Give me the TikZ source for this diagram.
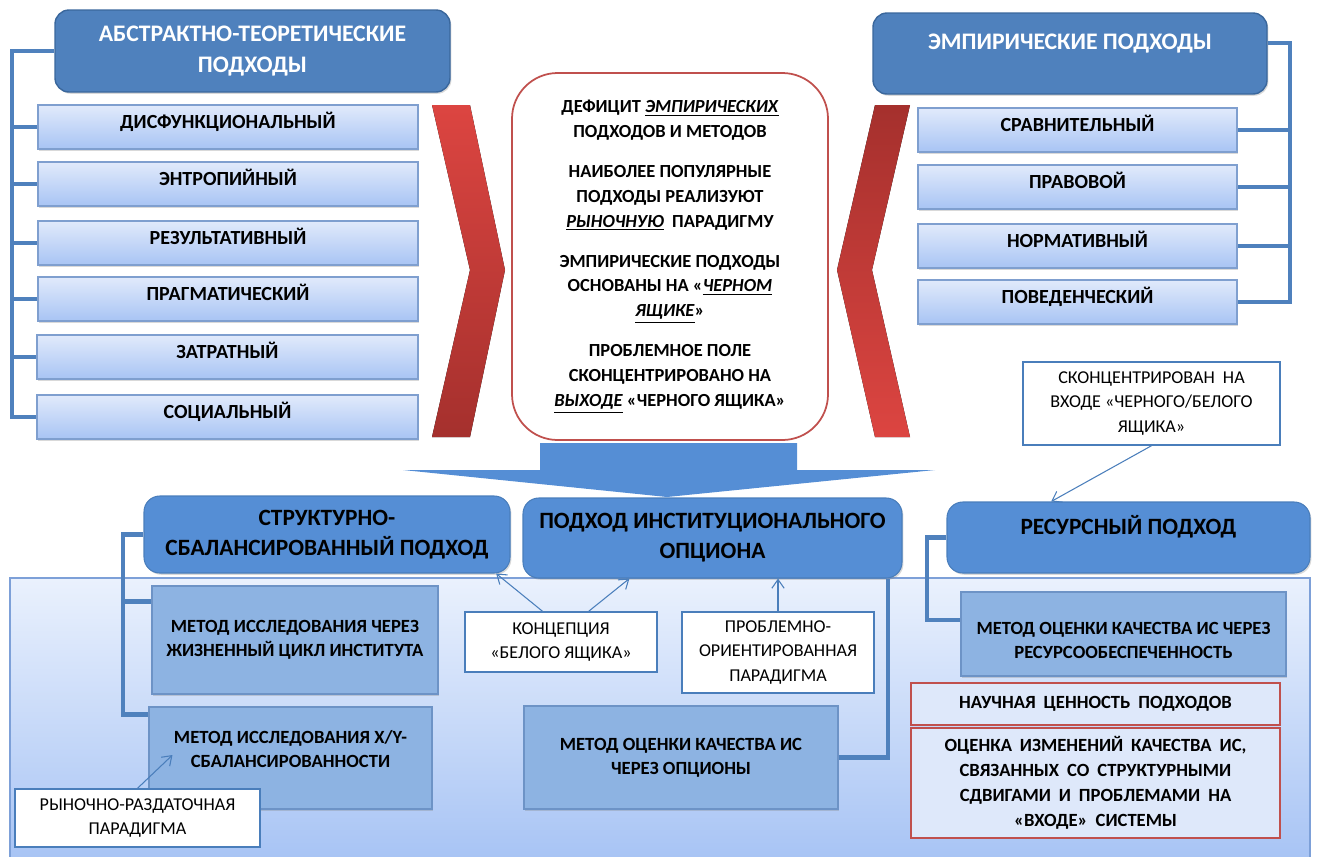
\documentclass[tikz,border=0pt]{standalone}
\usepackage{fontspec}
\setmainfont{Carlito}
\usetikzlibrary{shadows,arrows.meta,calc,positioning}

\definecolor{hdblue}{HTML}{4F81BD}
\definecolor{hdedge}{HTML}{3A679C}
\definecolor{apblue}{HTML}{558ED5}
\definecolor{apedge}{HTML}{4A7EBB}
\definecolor{itemtop}{HTML}{E1EAFB}
\definecolor{itembot}{HTML}{A8C4F4}
\definecolor{itemedge}{HTML}{7F9FCF}
\definecolor{mthfill}{HTML}{8DB3E2}
\definecolor{mthedge}{HTML}{6D93C6}
\definecolor{paneltop}{HTML}{EAF1FD}
\definecolor{panelbot}{HTML}{A5C2F4}
\definecolor{paneledge}{HTML}{7DA0D8}
\definecolor{notered}{HTML}{C0504D}
\definecolor{valfill}{HTML}{DEE8FA}
\definecolor{chevlight}{HTML}{DC4541}
\definecolor{chevdark}{HTML}{A5302D}

\newcommand\widewords{\spaceskip=4.5pt plus 1pt\relax}

\begin{document}
\begin{tikzpicture}[x=0.02cm, y=-0.02cm,
    wh/.style 2 args={minimum width=#1*0.02cm, minimum height=#2*0.02cm},
    box/.style={inner sep=0pt, align=center},
    shade box/.style={drop shadow={opacity=0.3, shadow xshift=0.8pt, shadow yshift=-1pt}},
    bighead/.style={box, shade box, draw=hdedge, fill=hdblue, line width=0.8pt, rounded corners=8pt, text=white, font=\bfseries\fontsize{13.5}{18}\selectfont},
    approach/.style={box, shade box, draw=apedge, fill=apblue, line width=0.6pt, rounded corners=9pt, font=\bfseries\fontsize{13.3}{17}\selectfont},
    item/.style={box, shade box, draw=itemedge, top color=itemtop, bottom color=itembot, line width=0.6pt, text height=7.5pt, text depth=6pt, font=\bfseries\fontsize{11.4}{13}\selectfont},
    method/.style={box, shade box, draw=mthedge, fill=mthfill, line width=0.6pt, font=\bfseries\fontsize{10.6}{13.7}\selectfont},
    note/.style={box, draw=apedge, fill=white, line width=0.8pt, font=\fontsize{10.3}{13.7}\selectfont},
    valuebox/.style={box, draw=notered, fill=valfill, line width=1pt, font=\bfseries\fontsize{10.6}{14.2}\selectfont},
    brace/.style={draw=hdblue, line width=2.4pt},
    pointer/.style={draw=apedge, line width=0.6pt, -{Straight Barb[length=5pt,width=7pt]}}
  ]
  \useasboundingbox (0,0) rectangle (1317,856);

  % lower panel
  \draw [draw=paneledge, line width=0.6pt, top color=paneltop, bottom color=panelbot] (10,578) rectangle (1310,870);

  % two groups of approaches
  \node (abs) [bighead, wh={395}{82}] at (252.5,51) {АБСТРАКТНО-ТЕОРЕТИЧЕСКИЕ\\ПОДХОДЫ};
  \node (t1) [item, wh={380}{44}] at (228,127) {ДИСФУНКЦИОНАЛЬНЫЙ};
  \node (t2) [item, wh={380}{44}] at (228,184) {ЭНТРОПИЙНЫЙ};
  \node (t3) [item, wh={380}{44}] at (228,243) {РЕЗУЛЬТАТИВНЫЙ};
  \node (t4) [item, wh={380}{44}] at (228,299) {ПРАГМАТИЧЕСКИЙ};
  \node (t5) [item, wh={381}{44}] at (227.5,357) {ЗАТРАТНЫЙ};
  \node (t6) [item, wh={381}{44}] at (227.5,417) {СОЦИАЛЬНЫЙ};

  \node (emp) [bighead, wh={394}{81}, text height=8pt, text depth=12pt] at (1070,53.5) {ЭМПИРИЧЕСКИЕ ПОДХОДЫ};
  \node (e1) [item, wh={319}{44}] at (1077.5,130) {СРАВНИТЕЛЬНЫЙ};
  \node (e2) [item, wh={319}{44}] at (1077.5,187) {ПРАВОВОЙ};
  \node (e3) [item, wh={319}{44}] at (1077.5,246) {НОРМАТИВНЫЙ};
  \node (e4) [item, wh={319}{44}] at (1077.5,302) {ПОВЕДЕНЧЕСКИЙ};

  \coordinate (lb) at (12,55);
  \draw [brace] (abs.west) -- (abs.west -| lb) |- (t6.west);
  \draw [brace] (t1.west -| lb) -- (t1.west);
  \draw [brace] (t2.west -| lb) -- (t2.west);
  \draw [brace] (t3.west -| lb) -- (t3.west);
  \draw [brace] (t4.west -| lb) -- (t4.west);
  \draw [brace] (t5.west -| lb) -- (t5.west);

  \coordinate (rb) at (1290,42);
  \draw [brace] (emp.3) -- (emp.3 -| rb) |- (e4.east);
  \draw [brace] (e1.east -| rb) -- (e1.east);
  \draw [brace] (e2.east -| rb) -- (e2.east);
  \draw [brace] (e3.east -| rb) -- (e3.east);

  % chevrons and summary
  \fill [top color=chevlight, bottom color=chevdark] (432,105) -- (470,105) -- (505,270) -- (470,437) -- (432,437) -- (470,270) -- cycle;
  \fill [top color=chevdark, bottom color=chevlight] (875,105) -- (910,105) -- (872,270) -- (910,437) -- (875,437) -- (837,270) -- cycle;

  \node (sum) [box, wh={316}{367}, draw=notered, fill=white, line width=1pt, rounded corners=26pt, font=\bfseries\fontsize{10.5}{14.2}\selectfont] at (670,256.5)
    {ДЕФИЦИТ \underline{\textit{ЭМПИРИЧЕСКИХ}}\\ПОДХОДОВ И МЕТОДОВ\\[8.5pt]
     НАИБОЛЕЕ ПОПУЛЯРНЫЕ\\ПОДХОДЫ РЕАЛИЗУЮТ\\\underline{\textit{РЫНОЧНУЮ}}\ \ ПАРАДИГМУ\\[8.5pt]
     ЭМПИРИЧЕСКИЕ ПОДХОДЫ\\ОСНОВАНЫ НА «\underline{\textit{ЧЕРНОМ}}\\\underline{\textit{ЯЩИКЕ}}»\\[8.5pt]
     ПРОБЛЕМНОЕ ПОЛЕ\\СКОНЦЕНТРИРОВАНО НА\\\underline{\textit{ВЫХОДЕ}} «ЧЕРНОГО ЯЩИКА»};

  \fill [apblue] (540,443) -- (797,443) -- (797,470) -- (935,470) -- (667,497) -- (403,470) -- (540,470) -- cycle;

  % new approaches
  \node (str) [approach, wh={366}{77}] at (327,534.5) {СТРУКТУРНО-\\СБАЛАНСИРОВАННЫЙ ПОДХОД};
  \node (inst) [approach, wh={379}{80}] at (712.5,538) {ПОДХОД ИНСТИТУЦИОНАЛЬНОГО\\ОПЦИОНА};
  \node (res) [approach, wh={363}{71}, text height=8pt, text depth=11pt] at (1128.5,537.5) {РЕСУРСНЫЙ ПОДХОД};

  \node (m1) [method, wh={286}{108}] at (295,640) {МЕТОД ИССЛЕДОВАНИЯ ЧЕРЕЗ\\ЖИЗНЕННЫЙ ЦИКЛ ИНСТИТУТА};
  \node (m2) [method, wh={283}{102}] at (290.5,758) {МЕТОД ИССЛЕДОВАНИЯ X/Y-\\СБАЛАНСИРОВАННОСТИ\\[-3pt]\mbox{}};
  \node (m3) [method, wh={314}{103}] at (681,757.5) {МЕТОД ОЦЕНКИ КАЧЕСТВА ИС\\ЧЕРЕЗ ОПЦИОНЫ};
  \node (m4) [method, wh={325}{84}, text height=27.6pt] at (1123.5,634) {МЕТОД ОЦЕНКИ КАЧЕСТВА ИС ЧЕРЕЗ\\РЕСУРСООБЕСПЕЧЕННОСТЬ};

  \coordinate (sb) at (123,540);
  \draw [brace] (str.west) -- (str.west -| sb) |- (m2.163);
  \draw [brace] (m1.165 -| sb) -- (m1.165);
  \draw [brace] (m3.east) -| (inst.-13);
  \coordinate (rsb) at (927,545);
  \draw [brace] (res.west) -- (res.west -| rsb) |- (m4.175);

  \node (n1) [note, wh={245}{58}] at (137.5,818) {РЫНОЧНО-РАЗДАТОЧНАЯ\\ПАРАДИГМА};
  \node (n2) [note, wh={192}{60}] at (561,642) {КОНЦЕПЦИЯ\\«БЕЛОГО ЯЩИКА»};
  \node (n3) [note, wh={192}{81}] at (778,652.5) {ПРОБЛЕМНО-\\ОРИЕНТИРОВАННАЯ\\ПАРАДИГМА};
  \node (n4) [note, wh={257}{83}] at (1151.5,403.5) {СКОНЦЕНТРИРОВАН\ \ НА\\ВХОДЕ «ЧЕРНОГО/БЕЛОГО\\ЯЩИКА»};

  \draw [pointer] (n1.north) -- ($(m2.west)+(24,-3)$);
  \draw [pointer] (n2.121) -- (str.-13);
  \draw [pointer] (n2.48) -- (inst.206);
  \draw [pointer] (n3.north) -- (n3.north |- inst.south);
  \draw [pointer] (n4.south) -- (res.155);

  \node (v1) [valuebox, wh={369}{42}] at (1095.5,704) {\widewords НАУЧНАЯ ЦЕННОСТЬ ПОДХОДОВ};
  \node (v2) [valuebox, wh={369}{110}] at (1095.5,783) {\widewords ОЦЕНКА ИЗМЕНЕНИЙ КАЧЕСТВА ИС,\\\widewords СВЯЗАННЫХ СО СТРУКТУРНЫМИ\\\widewords СДВИГАМИ И ПРОБЛЕМАМИ НА\\\widewords «ВХОДЕ» СИСТЕМЫ};
\end{tikzpicture}
\end{document}
